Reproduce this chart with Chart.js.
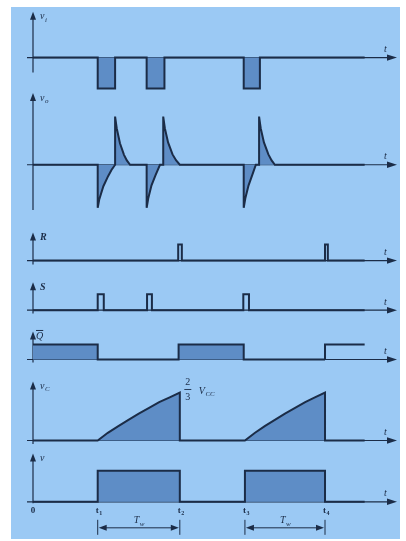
<!DOCTYPE html>
<html>
<head>
<meta charset="utf-8">
<script src="https://cdn.jsdelivr.net/npm/chart.js@4.4.0/dist/chart.umd.min.js"></script>
<style>
  html, body { margin: 0; padding: 0; background: #fff; }
  canvas { display: block; }
</style>
</head>
<body>
<canvas id="timing" width="406" height="541"></canvas>
<script>
// Monostable (555) timing waveforms, one strip per signal, sharing the time axis.
// Each signal is a list of [t, value] pairs.

const viPoints = [
  [0, 0], [16, 0], [16, -1], [20.3, -1], [20.3, 0],
  [28.1, 0], [28.1, -1], [32.5, -1], [32.5, 0],
  [52.1, 0], [52.1, -1], [56.1, -1], [56.1, 0], [82, 0]
];

const voPoints = [
  [0, 0], [16, 0], [16, -1], [16.4, -0.8], [17.4, -0.5], [18.6, -0.26], [19.4, -0.12], [20.3, 0],
  [20.3, 1.12], [20.7, 0.85], [21.5, 0.5], [22.5, 0.23], [23.2, 0.1], [24, 0],
  [28.1, 0], [28.1, -1], [28.5, -0.78], [29.3, -0.48], [30.3, -0.24], [31.4, 0],
  [32.2, 0], [32.2, 1.12], [32.6, 0.85], [33.4, 0.52], [34.5, 0.24], [35.4, 0.1], [36.3, 0],
  [52.1, 0], [52.1, -1], [52.5, -0.78], [53.3, -0.48], [54.2, -0.24], [55.1, 0],
  [55.9, 0], [55.9, 1.12], [56.3, 0.85], [57.1, 0.52], [58.2, 0.24], [59, 0.1], [59.8, 0],
  [82, 0]
];

const rPoints = [
  [0, 0], [35.9, 0], [35.9, 1], [36.8, 1], [36.8, 0],
  [72.2, 0], [72.2, 1], [72.9, 1], [72.9, 0], [82, 0]
];

const sPoints = [
  [0, 0], [16, 0], [16, 1], [17.5, 1], [17.5, 0],
  [28.2, 0], [28.2, 1], [29.4, 1], [29.4, 0],
  [52, 0], [52, 1], [53.4, 1], [53.4, 0], [82, 0]
];

const qbarPoints = [
  [0, 1], [16, 1], [16, 0], [36, 0], [36, 1], [52.1, 1], [52.1, 0],
  [72.2, 0], [72.2, 1], [82, 1]
];

// capacitor voltage in units of Vcc, charging up to 2/3
const vcPoints = [
  [0, 0], [16, 0], [18.5, 0.107], [21.1, 0.2], [23.6, 0.287], [26.15, 0.373],
  [28.7, 0.453], [31.2, 0.533], [33.8, 0.6], [36.3, 0.667], [36.3, 0],
  [52.4, 0], [54.9, 0.107], [57.3, 0.2], [59.8, 0.287], [62.3, 0.373],
  [64.8, 0.453], [67.3, 0.533], [69.7, 0.6], [72.2, 0.667], [72.2, 0], [82, 0]
];

const voutPoints = [
  [0, 0], [16, 0], [16, 1], [36.3, 1], [36.3, 0],
  [52.4, 0], [52.4, 1], [72.2, 1], [72.2, 0], [82, 0]
];

const tickTimes = [16, 36.3, 52.4, 72.2];
const tickSubs = ['1', '2', '3', '4'];

const INK = '#1b2c47';
const FILL = '#5e8dc6';
const PAPER = '#9bc9f4';
const SERIF = '"Liberation Serif", "DejaVu Serif", serif';

// strips from top to bottom; ppu = pixels per unit of value
const panels = [
  { id: 'yVi',  data: viPoints,   min: -1.1,  max: 1.6,  ppu: 31, axis: [-0.48, 1.48], name: 'v', sub: 'i', fill: true },
  { id: 'yVo',  data: voPoints,   min: -1.3,  max: 1.7,  ppu: 43, axis: [-1.05, 1.67], name: 'v', sub: 'o', fill: true },
  { id: 'yR',   data: rPoints,    min: -0.6,  max: 2.5,  ppu: 16, axis: [-0.25, 1.75], name: 'R', bold: true, fill: false },
  { id: 'yS',   data: sPoints,    min: -0.6,  max: 2.5,  ppu: 16, axis: [-0.2, 1.75],  name: 'S', bold: true, fill: false },
  { id: 'yQ',   data: qbarPoints, min: -0.6,  max: 2.65, ppu: 15, axis: [-0.2, 1.87],  name: 'Q', bar: true, fill: true, fillUntil: 72 },
  { id: 'yVc',  data: vcPoints,   min: -0.12, max: 1.0,  ppu: 72, axis: [-0.05, 0.82], name: 'v', sub: 'C', fill: true },
  { id: 'yOut', data: voutPoints, min: -1.2,  max: 1.7,  ppu: 31, axis: [-0.05, 1.56], name: 'v', fill: true }
];

function line(ctx, x1, y1, x2, y2) {
  ctx.beginPath();
  ctx.moveTo(x1, y1);
  ctx.lineTo(x2, y2);
  ctx.stroke();
}

function arrowHead(ctx, x, y, dir, len, half) {
  ctx.beginPath();
  ctx.moveTo(x, y);
  if (dir === 'right') { ctx.lineTo(x - len, y - half); ctx.lineTo(x - len, y + half); }
  if (dir === 'left')  { ctx.lineTo(x + len, y - half); ctx.lineTo(x + len, y + half); }
  if (dir === 'up')    { ctx.lineTo(x - half, y + len); ctx.lineTo(x + half, y + len); }
  ctx.closePath();
  ctx.fill();
}

function drawName(ctx, x, y, main, sub, style, size) {
  ctx.font = `${style} ${size}px ${SERIF}`;
  ctx.fillText(main, x, y);
  const w = ctx.measureText(main).width;
  if (sub) {
    ctx.font = `${style} ${Math.round(size * 0.65)}px ${SERIF}`;
    ctx.fillText(sub, x + w + 0.5, y + size * 0.3);
  }
  return w;
}

const timingPlugin = {
  id: 'timingAxes',
  beforeDraw(chart) {
    const { ctx } = chart;
    ctx.save();
    ctx.fillStyle = PAPER;
    ctx.fillRect(11, 7, 389, 532);
    ctx.restore();
  },
  beforeDatasetsDraw(chart) {
    const { ctx, chartArea, scales } = chart;
    const x0 = scales.x.getPixelForValue(0);
    ctx.save();
    ctx.strokeStyle = INK;
    ctx.fillStyle = INK;
    ctx.lineWidth = 1.2;
    panels.forEach(p => {
      const ys = scales[p.id];
      const y0 = ys.getPixelForValue(0);
      line(ctx, x0 - 6, y0, chartArea.right - 6, y0);
      arrowHead(ctx, chartArea.right, y0, 'right', 10, 3.2);
      const yTop = ys.getPixelForValue(p.axis[1]);
      line(ctx, x0, ys.getPixelForValue(p.axis[0]), x0, yTop + 5);
      arrowHead(ctx, x0, yTop, 'up', 8, 3);
    });
    ctx.restore();
  },
  afterDatasetsDraw(chart) {
    const { ctx, chartArea, scales } = chart;
    const xs = scales.x;
    const x0 = xs.getPixelForValue(0);
    ctx.save();
    ctx.fillStyle = INK;
    ctx.strokeStyle = INK;
    ctx.textBaseline = 'middle';
    ctx.textAlign = 'left';

    panels.forEach(p => {
      const ys = scales[p.id];
      const y0 = ys.getPixelForValue(0);
      const yTop = ys.getPixelForValue(p.axis[1]);
      const style = p.bold ? 'italic bold' : 'italic';
      const w = drawName(ctx, x0 + (p.bar ? 3 : 7), yTop + 5, p.name, p.sub, style, 10);
      if (p.bar) {
        ctx.lineWidth = 1;
        line(ctx, x0 + 3, yTop - 1, x0 + 3 + w, yTop - 1);
      }
      ctx.font = `italic 10px ${SERIF}`;
      ctx.fillText('t', chartArea.right - 13, y0 - 8);
    });

    // 2/3 Vcc marker at the end of the first charge ramp
    const yc = scales.yVc;
    const xf = xs.getPixelForValue(tickTimes[1]) + 8;
    const yf = yc.getPixelForValue(0.667);
    ctx.textAlign = 'center';
    ctx.font = `10px ${SERIF}`;
    ctx.fillText('2', xf, yf - 10);
    ctx.fillText('3', xf, yf + 5);
    ctx.lineWidth = 0.9;
    line(ctx, xf - 3.5, yf - 3, xf + 3.5, yf - 3);
    ctx.textAlign = 'left';
    drawName(ctx, xf + 11, yf - 1, 'V', 'CC', 'italic', 10);

    // time marks under the output strip
    const yo = scales.yOut.getPixelForValue(0);
    ctx.textAlign = 'center';
    ctx.font = `bold 9px ${SERIF}`;
    ctx.fillText('0', x0, yo + 9);
    tickTimes.forEach((t, i) => {
      const x = xs.getPixelForValue(t);
      ctx.textAlign = 'left';
      drawName(ctx, x - 2, yo + 9, 't', tickSubs[i], 'bold', 9);
    });

    // pulse width dimensions
    ctx.lineWidth = 1;
    for (let i = 0; i < tickTimes.length; i += 2) {
      const xa = xs.getPixelForValue(tickTimes[i]);
      const xb = xs.getPixelForValue(tickTimes[i + 1]);
      const yd = yo + 26;
      line(ctx, xa, yo + 18, xa, yo + 33);
      line(ctx, xb, yo + 18, xb, yo + 33);
      line(ctx, xa + 6, yd, xb - 6, yd);
      arrowHead(ctx, xa + 1, yd, 'left', 8, 3);
      arrowHead(ctx, xb - 1, yd, 'right', 8, 3);
      ctx.textAlign = 'left';
      drawName(ctx, (xa + xb) / 2 - 5, yd - 7, 'T', 'w', 'italic', 10);
    }
    ctx.restore();
  }
};

const scales = {
  x: { type: 'linear', min: 0, max: 90, display: false }
};
panels.forEach((p, i) => {
  scales[p.id] = {
    type: 'linear',
    position: 'left',
    stack: 'strips',
    stackWeight: (p.max - p.min) * p.ppu,
    weight: panels.length - i,
    min: p.min,
    max: p.max,
    display: false
  };
});

const datasets = panels.map(p => ({
  label: p.name + (p.sub || ''),
  data: p.data.map(([x, y]) => ({ x, y })),
  yAxisID: p.id,
  borderColor: INK,
  borderWidth: 2,
  backgroundColor: FILL,
  fill: p.fill ? 'origin' : false,
  pointRadius: 0,
  tension: 0,
  clip: false,
  segment: p.fillUntil ? {
    backgroundColor: c => (c.p0.parsed.x >= p.fillUntil ? 'rgba(0,0,0,0)' : FILL)
  } : undefined
}));

new Chart(document.getElementById('timing'), {
  type: 'line',
  data: { datasets },
  options: {
    responsive: false,
    animation: false,
    devicePixelRatio: 1,
    layout: { padding: { left: 33, right: 9, top: 8, bottom: 2 } },
    plugins: { legend: { display: false }, tooltip: { enabled: false } },
    scales
  },
  plugins: [timingPlugin]
});
</script>
</body>
</html>
